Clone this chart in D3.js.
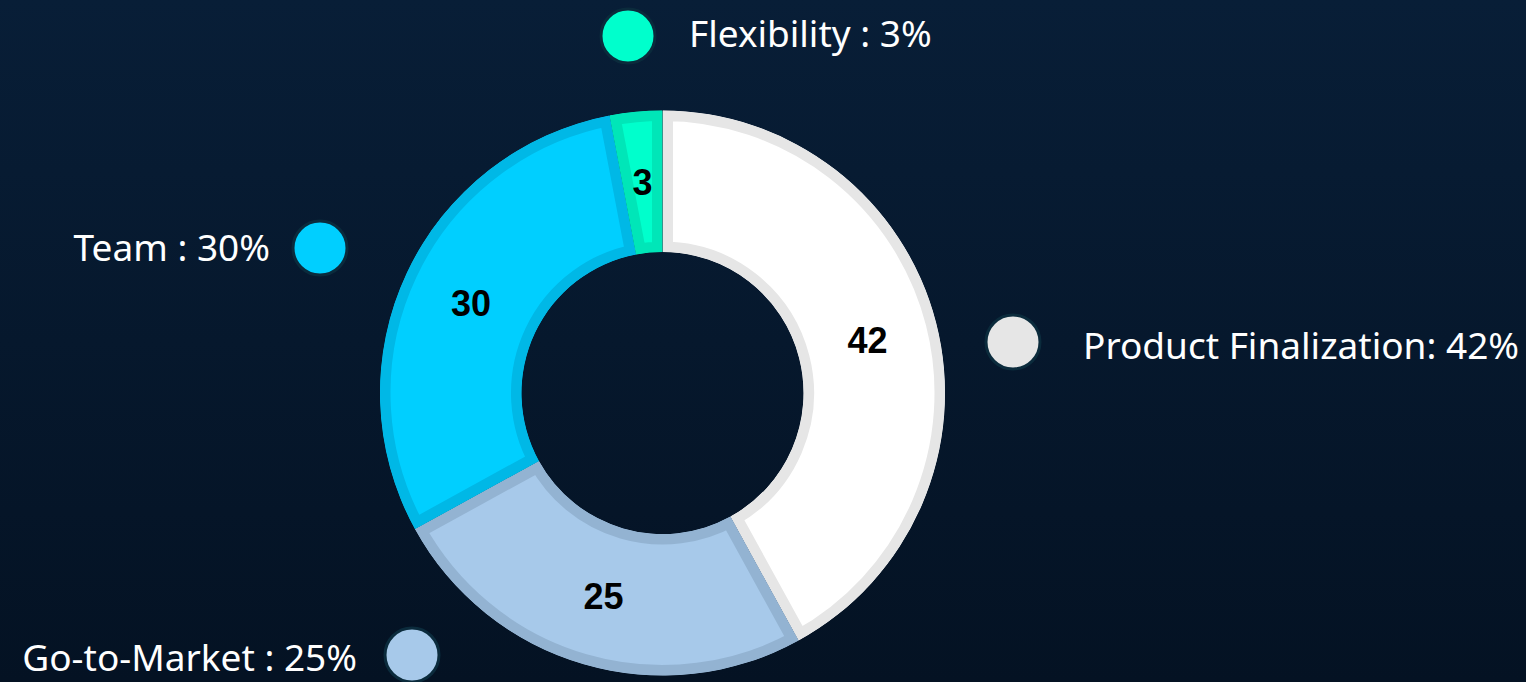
<!DOCTYPE html>
<html><head><meta charset="utf-8">
<script src="https://cdn.jsdelivr.net/npm/d3@7"></script>
<style>html,body{margin:0;padding:0;overflow:hidden;background:#06172b}</style>
</head><body>
<svg id="c" width="1526" height="682"></svg>
<script>
const categories = ["Product Finalization", "Go-to-Market", "Team", "Flexibility"];
const values = [42, 25, 30, 3];
const legendLabels = ["Product Finalization: 42%", "Go-to-Market : 25%", "Team : 30%", "Flexibility : 3%"];
const fillColors = ["#FFFFFF", "#A7C9EA", "#00CFFF", "#00FFCC"];
const edgeColors = ["#E6E6E6", "#93B3D2", "#00B8E6", "#00E6B8"];

const W = 1526, H = 682;
const svg = d3.select("#c");
const defs = svg.append("defs");
const grad = defs.append("linearGradient").attr("id","bg").attr("x1",0).attr("y1",0).attr("x2",0).attr("y2",1);
grad.append("stop").attr("offset","0%").attr("stop-color","#081E37");
grad.append("stop").attr("offset","100%").attr("stop-color","#041223");
svg.append("rect").attr("width",W).attr("height",H).attr("fill","url(#bg)");

const cx = 662.5, cy = 393, rOuter = 282.5, rInner = 141;
const pie = d3.pie().sort(null).value(d => d);
const arcs = pie(values);
const arc = d3.arc().innerRadius(rInner).outerRadius(rOuter);
const g = svg.append("g").attr("transform", `translate(${cx},${cy})`);

arcs.forEach((a, i) => {
  defs.append("clipPath").attr("id", "clip" + i).append("path").attr("d", arc(a));
});
g.selectAll("path.slice").data(arcs).join("path")
  .attr("class","slice")
  .attr("d", arc)
  .attr("fill", (d,i) => fillColors[i])
  .attr("stroke", (d,i) => edgeColors[i])
  .attr("stroke-width", 21)
  .attr("clip-path", (d,i) => `url(#clip${i})`);

g.selectAll("text.val").data(arcs).join("text")
  .attr("class","val")
  .attr("transform", d => `translate(${arc.centroid(d)})`)
  .attr("text-anchor","middle")
  .attr("dy","0.36em")
  .attr("font-family","'Liberation Sans', Arial, sans-serif")
  .attr("font-weight","bold")
  .attr("font-size", 36)
  .attr("fill","#000")
  .text(d => d.data);

// legend (positions per category)
const legendPos = [
  {c:[1013,342], t:[1083,346], anchor:"start"},
  {c:[412,655], t:[357,658], anchor:"end"},
  {c:[320,248], t:[270,248], anchor:"end"},
  {c:[628,36], t:[689,34], anchor:"start"}
];
const lg = svg.append("g");
categories.forEach((c, i) => {
  const p = legendPos[i];
  lg.append("circle").attr("cx",p.c[0]).attr("cy",p.c[1]).attr("r",27)
    .attr("fill", fillColors[i] === "#FFFFFF" ? "#E6E6E6" : fillColors[i])
    .attr("stroke","#0B2B3C").attr("stroke-width",3);
  lg.append("text").attr("x",p.t[0]).attr("y",p.t[1]).attr("dy","0.36em")
    .attr("text-anchor",p.anchor)
    .attr("font-family","'Noto Sans', sans-serif")
    .attr("font-size",37)
    .attr("fill","#FFFFFF")
    .text(legendLabels[i]);
});
</script>
</body></html>
